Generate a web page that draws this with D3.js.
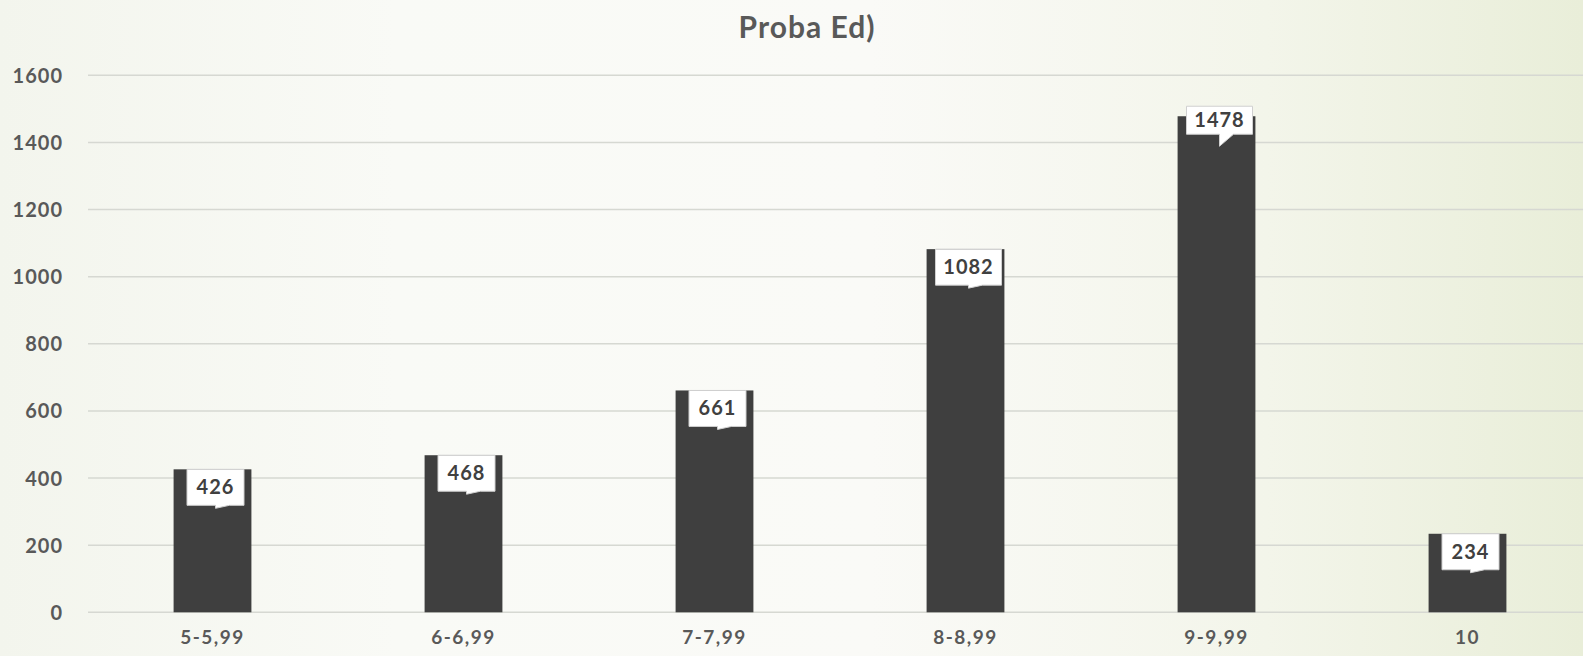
<!DOCTYPE html>
<html><head><meta charset="utf-8">
<script src="https://cdn.jsdelivr.net/npm/d3@7/dist/d3.min.js"></script>
<style>html,body{margin:0;padding:0;overflow:hidden;}svg{display:block;}</style>
</head><body>
<script>
const categories = ["5-5,99","6-6,99","7-7,99","8-8,99","9-9,99","10"];
const values = [426,468,661,1082,1478,234];
const yTicks = [0,200,400,600,800,1000,1200,1400,1600];
const title = "Proba Ed)";

const W = 1583, H = 656;
const FONT = "Lato, 'DejaVu Sans', sans-serif";
const svg = d3.select("body").append("svg").attr("width",W).attr("height",H);
const defs = svg.append("defs");
const g1 = defs.append("linearGradient").attr("id","bg").attr("x1","0").attr("x2","1").attr("y1","0").attr("y2","0");
[["0%","#f3f5ed"],["25%","#f9faf6"],["55%","#fafaf7"],["80%","#f3f5ea"],["100%","#e9eed9"]].forEach(s=>g1.append("stop").attr("offset",s[0]).attr("stop-color",s[1]));
svg.append("rect").attr("width",W).attr("height",H).attr("fill","url(#bg)");

const x = d3.scaleBand().domain(categories).range([87,1593]).paddingInner(0.69).paddingOuter(0.345);
const y = d3.scaleLinear().domain([0,1600]).range([612.3,75.3]);

// grid
svg.append("g").selectAll("line").data(yTicks).join("line")
  .attr("x1",88).attr("x2",W).attr("y1",d=>y(d)).attr("y2",d=>y(d))
  .attr("stroke","#d6d8d2").attr("stroke-width",1.5);

// y axis labels
const yAxis = d3.axisLeft(y).tickValues(yTicks).tickFormat(d3.format("d")).tickSize(0).tickPadding(0);
const ya = svg.append("g").attr("transform","translate(63,0)").call(yAxis);
ya.select(".domain").remove();
ya.selectAll("text").attr("font-family",FONT).attr("font-weight","bold")
  .attr("font-size","20px").attr("letter-spacing","1px").attr("fill","#595959").attr("dy","0.35em");

// x axis labels
const xAxis = d3.axisBottom(x).tickSize(0).tickPadding(0);
const xa = svg.append("g").attr("transform","translate(0,637)").call(xAxis);
xa.select(".domain").remove();
xa.selectAll("text").attr("font-family",FONT).attr("font-weight","bold")
  .attr("font-size","19px").attr("fill","#595959").attr("dy","0.35em").attr("letter-spacing","1.5px");

// bars
svg.append("g").selectAll("rect").data(values).join("rect")
  .attr("x",(d,i)=>x(categories[i])).attr("width",x.bandwidth())
  .attr("y",d=>y(d)).attr("height",d=>y(0)-y(d)).attr("fill","#3f3f3f");

// labels
const lg = svg.append("g");
values.forEach((v,i)=>{
  const cx = x(categories[i]) + x.bandwidth()/2 + 3;
  const w = String(v).length>3 ? 66 : 57;
  const top = y(v) + (v>1400 ? -10 : 0);
  const h = v>1400 ? 28 : 36;
  const gg = lg.append("g");
  gg.append("path")
    .attr("d",`M${cx-w/2},${top} h${w} v${h} h${-w/2+14} l-14,${v>1400?12:3} v${v>1400?-12:-3} h${-w/2} Z`)
    .attr("fill","#ffffff").attr("stroke","#d0d0d0").attr("stroke-width",1);
  gg.append("text").attr("x",cx).attr("y",top+h/2).attr("dy","0.35em").attr("text-anchor","middle")
    .attr("font-family",FONT).attr("font-weight","bold").attr("font-size","20px").attr("letter-spacing","1px")
    .attr("fill","#404040").text(v);
});

// title
svg.append("text").attr("x",807).attr("y",38).attr("text-anchor","middle")
  .attr("font-family",FONT).attr("font-weight","bold").attr("font-size","30px").attr("letter-spacing","1px")
  .attr("fill","#595959").text(title);
</script>
</body></html>
